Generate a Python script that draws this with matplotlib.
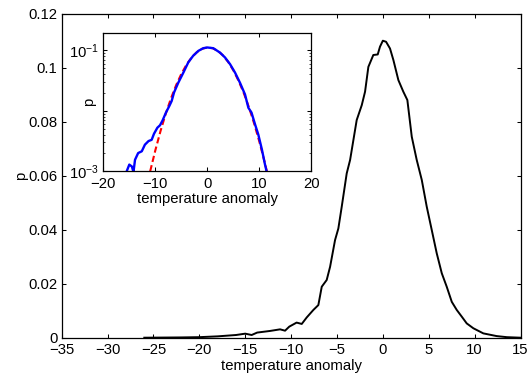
import matplotlib
matplotlib.use("Agg")
import matplotlib.pyplot as plt
from matplotlib.ticker import FixedLocator, FixedFormatter, NullFormatter

plt.rcParams['font.family'] = ['Liberation Sans', 'DejaVu Sans']
plt.rcParams['mathtext.fontset'] = 'custom'
plt.rcParams['mathtext.rm'] = 'Liberation Sans'
plt.rcParams['mathtext.it'] = 'Liberation Sans:italic'
plt.rcParams['axes.unicode_minus'] = True

# ---- main panel: pdf of temperature anomaly (linear) ----
main_x = [-26, -22, -20, -18, -16, -15, -14.3, -13.7, -12.3, -11.2, -10.66, -10.2,
          -9.4, -8.84, -8.3, -7.57, -7.03, -6.66, -6.12, -5.75, -5.21, -4.85, -4.48,
          -3.94, -3.57, -2.85, -2.3, -1.94, -1.58, -1.04, -0.56, -0.31, 0, 0.35,
          0.78, 1.15, 1.69, 2.23, 2.67, 3.15, 3.69, 4.24, 4.78, 5.33, 5.87, 6.42,
          6.96, 7.51, 8.05, 8.6, 9.14, 9.86, 10.95, 12.4, 13.5, 15]
main_p = [0, 0.0001, 0.0002, 0.0005, 0.001, 0.0015, 0.0010, 0.0019, 0.0025, 0.0031,
          0.0026, 0.0041, 0.0056, 0.0051, 0.0075, 0.0103, 0.0121, 0.0189, 0.0214,
          0.0263, 0.0362, 0.0405, 0.0486, 0.0609, 0.0659, 0.0807, 0.0862, 0.0912,
          0.1004, 0.1048, 0.1050, 0.1079, 0.1101, 0.1097, 0.1072, 0.1029, 0.0955,
          0.0912, 0.0881, 0.0745, 0.0659, 0.0585, 0.0486, 0.0399, 0.0313, 0.0239,
          0.0189, 0.0133, 0.0103, 0.0078, 0.0053, 0.0035, 0.0016, 0.0006, 0.0002, 0.0]

main_xticks = [-35, -30, -25, -20, -15, -10, -5, 0, 5, 10, 15]
main_yticks = [0, 0.02, 0.04, 0.06, 0.08, 0.1, 0.12]
main_yticklabels = ["0", "0.02", "0.04", "0.06", "0.08", "0.1", "0.12"]

# ---- inset: same pdf on log scale (blue) and gaussian fit (red dashed) ----
inset_x = [-15.8, -15.5, -15.0, -14.5, -14.2, -13.9, -13.3, -12.6, -12.0, -11.3,
           -10.7, -10.25, -9.6, -9.1, -8.6, -7.95, -7.3, -6.85, -6.4, -5.6, -4.6,
           -3.65, -2.7, -1.7, -0.77, 0, 1.15, 2.45, 3.4, 4.37, 5.33, 6.3, 7.25,
           7.9, 8.5, 9.2, 9.8, 10.5, 11.1, 11.4, 11.7]
inset_p = [0.0008, 0.0010, 0.00129, 0.00120, 0.00097, 0.00155, 0.00200, 0.00214,
           0.00275, 0.00316, 0.00331, 0.00417, 0.00525, 0.00575, 0.00692, 0.00933,
           0.0120, 0.0145, 0.0200, 0.0288, 0.0427, 0.0631, 0.0813, 0.0977, 0.1079,
           0.1109, 0.1079, 0.0912, 0.0759, 0.0589, 0.0427, 0.0288, 0.0186, 0.0112,
           0.00933, 0.00589, 0.00407, 0.00229, 0.00129, 0.0010, 0.0008]

fit_x = [-11.3, -11.0, -10, -9, -8, -7, -6, -5, -4, -3, -2, -1, 0, 1, 2, 3, 4, 5,
         6, 7, 8, 9, 10, 11, 11.6]
fit_p = [0.0007, 0.000989, 0.00221, 0.00461, 0.00889, 0.0159, 0.0264, 0.0405,
         0.0577, 0.0760, 0.0931, 0.1054, 0.1109, 0.1079, 0.0977, 0.0822, 0.0643,
         0.0467, 0.0314, 0.0197, 0.01146, 0.00619, 0.00311, 0.00145, 0.00089]

inset_xticks = [-20, -10, 0, 10, 20]
inset_yticks = [1e-3, 1e-2, 1e-1]
inset_yticklabels = [r"$10^{-3}$", "", r"$10^{-1}$"]

W, H = 531, 376
fig = plt.figure(figsize=(W / 100, H / 100), dpi=100)

FS = 10.7
ax = fig.add_axes([61.7 / W, 1 - 337.7 / H, (520.5 - 61.7) / W, (337.7 - 14) / H])
ax.plot(main_x, main_p, color='black', lw=1.4, solid_joinstyle='round')
ax.set_xlim(-35, 15)
ax.set_ylim(0, 0.12)
ax.set_xticks(main_xticks)
ax.set_yticks(main_yticks)
ax.set_yticklabels(main_yticklabels)
ax.tick_params(direction='in', length=3, width=0.75, top=True, right=True,
               labelsize=FS, pad=3)
ax.tick_params(axis='x', pad=4)
ax.set_xlabel("temperature anomaly", fontsize=FS, labelpad=1)
ax.set_ylabel("p", fontsize=FS)
ax.yaxis.set_label_coords(-0.074, 0.5)
for s in ax.spines.values():
    s.set_linewidth(0.9)

axi = fig.add_axes([103.3 / W, 1 - 171.3 / H, (311.3 - 103.3) / W, (171.3 - 32.5) / H])
axi.set_facecolor('white')
axi.plot(fit_x, fit_p, color='red', lw=1.5, ls=(0, (3, 1.6)))
axi.plot(inset_x, inset_p, color='blue', lw=1.7, solid_joinstyle='round')
axi.set_yscale('log')
axi.set_xlim(-20, 20)
axi.set_ylim(1e-3, 0.196)
axi.set_xticks(inset_xticks)
axi.yaxis.set_major_locator(FixedLocator(inset_yticks))
axi.yaxis.set_major_formatter(FixedFormatter(inset_yticklabels))
axi.yaxis.set_minor_formatter(NullFormatter())
axi.tick_params(which='major', direction='in', length=3, width=0.75, top=True,
                right=True, labelsize=FS, pad=3)
axi.tick_params(which='minor', direction='in', length=1.5, width=0.5, left=True,
                right=True)
axi.tick_params(axis='x', pad=4)
axi.set_xlabel("temperature anomaly", fontsize=FS, labelpad=1)
axi.set_ylabel("p", fontsize=FS)
axi.yaxis.set_label_coords(-0.034, 0.5)
for s in axi.spines.values():
    s.set_linewidth(0.9)

fig.savefig("out.png", dpi=100)
